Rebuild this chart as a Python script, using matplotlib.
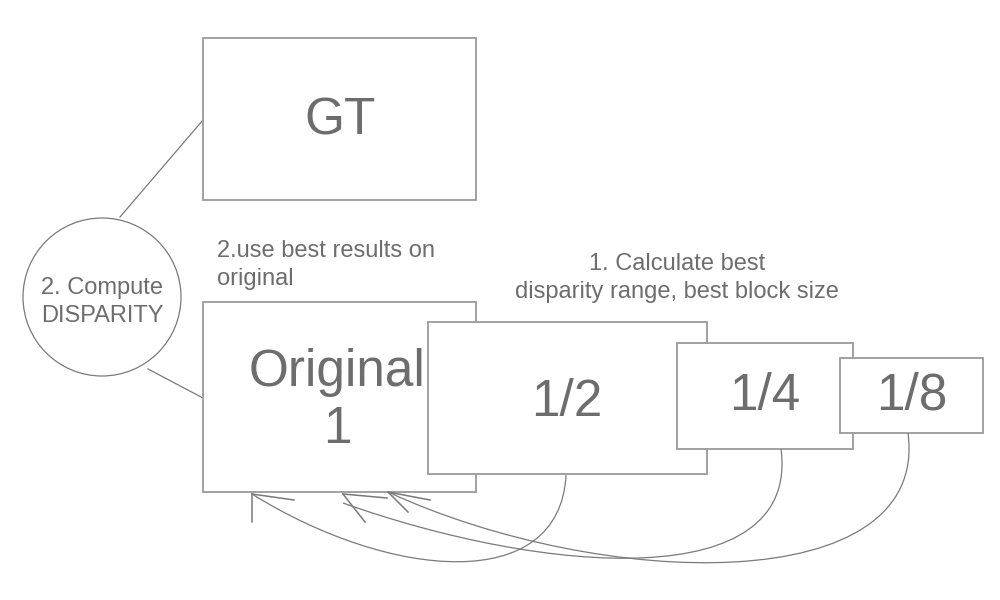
import matplotlib.pyplot as plt
from matplotlib.patches import Rectangle, Circle, PathPatch
from matplotlib.path import Path

plt.rcParams['font.family'] = ['Liberation Sans', 'DejaVu Sans']

text_col = '#6d6d6d'
edge_col = '#9a9a9a'
line_col = '#7a7a7a'

# boxes (pixel space, y grows downward)
box_labels = ['GT', 'Original\n1', '1/2', '1/4', '1/8']
box_left = [203, 203, 428, 677, 840]
box_top = [38, 302, 322, 343, 358]
box_right = [476, 476, 707, 853, 983]
box_bottom = [200, 492, 474, 449, 433]
label_x = [340, 337, 567, 765, 912]
label_y = [121, 401, 402, 396, 396]

# the "compute" circle and its two links
circle_center = (102, 297)
circle_radius = 79
link_start = [(120, 217), (148, 369)]
link_end = [(203, 120), (203, 398)]

# hand drawn return arrows (cubic curves + loose arrow heads)
curve_p0 = [(566, 475), (781, 449), (908, 433)]
curve_p1 = [(560, 595), (800, 595), (930, 600)]
curve_p2 = [(390, 580), (545, 575), (600, 590)]
curve_p3 = [(252, 494), (343, 503), (388, 492)]
head_tip = [(252, 494), (343, 494), (388, 492)]
head_a = [(294, 500), (387, 498), (430, 500)]
head_b = [(252, 522), (365, 522), (408, 512)]

notes = [
    (217, 265, '2.use best results on\noriginal', 'left'),
    (677, 278, '1. Calculate best\ndisparity range, best block size', 'center'),
    (102, 302, '2. Compute\nDISPARITY', 'center'),
]

fig = plt.figure(figsize=(10, 6), dpi=100)
ax = fig.add_axes([0, 0, 1, 1])
ax.set_xlim(0, 1000)
ax.set_ylim(600, 0)
ax.axis('off')

for i, lab in enumerate(box_labels):
    w = box_right[i] - box_left[i]
    h = box_bottom[i] - box_top[i]
    ax.add_patch(Rectangle((box_left[i], box_top[i]), w, h, facecolor='white',
                           edgecolor=edge_col, linewidth=1.3, zorder=2 + i))
    ax.text(label_x[i], label_y[i], lab, ha='center', va='center', fontsize=37,
            color=text_col, linespacing=1.2, zorder=2 + i)

ax.add_patch(Circle(circle_center, circle_radius, facecolor='white',
                    edgecolor=line_col, linewidth=0.9, zorder=2))
for s, e in zip(link_start, link_end):
    ax.plot([s[0], e[0]], [s[1], e[1]], color=line_col, lw=0.9, zorder=1)

for k in range(len(curve_p0)):
    verts = [curve_p0[k], curve_p1[k], curve_p2[k], curve_p3[k]]
    codes = [Path.MOVETO, Path.CURVE4, Path.CURVE4, Path.CURVE4]
    ax.add_patch(PathPatch(Path(verts, codes), facecolor='none',
                           edgecolor=line_col, lw=0.9, zorder=10))
    for b in (head_a[k], head_b[k]):
        ax.plot([head_tip[k][0], b[0]], [head_tip[k][1], b[1]],
                color=line_col, lw=1.1, zorder=10)

for x, y, t, ha in notes:
    ax.text(x, y, t, ha=ha, va='center', fontsize=17, color=text_col,
            linespacing=1.38, zorder=12)

fig.savefig('out.png', dpi=100, facecolor='white')
